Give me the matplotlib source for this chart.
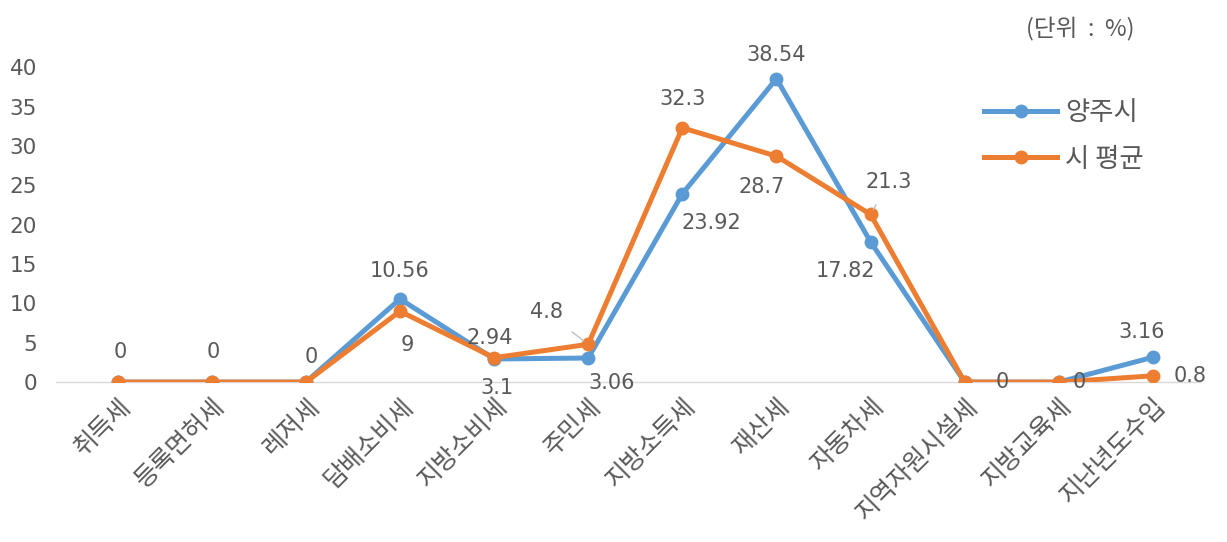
import matplotlib
matplotlib.use('Agg')
from matplotlib import pyplot as plt

plt.rcParams['font.family'] = ['Noto Sans CJK KR', 'DejaVu Sans']

categories = ['취득세', '등록면허세', '레저세', '담배소비세', '지방소비세', '주민세',
              '지방소득세', '재산세', '자동차세', '지역자원시설세', '지방교육세', '지난년도수입']
yangju = [0, 0, 0, 10.56, 2.94, 3.06, 23.92, 38.54, 17.82, 0, 0, 3.16]
city_avg = [0, 0, 0, 9, 3.1, 4.8, 32.3, 28.7, 21.3, 0, 0, 0.8]
yangju_labels = ['', '', '', '10.56', '2.94', '3.06', '23.92', '38.54', '17.82', '', '', '3.16']
avg_labels = ['0', '0', '0', '9', '3.1', '4.8', '32.3', '28.7', '21.3', '0', '0', '0.8']

BLUE = '#5B9BD5'
ORANGE = '#ED7D31'
GRAY = '#595959'
NUM_FONT = ['DejaVu Sans']

# 라벨 위치 (points 단위 offset)
blue_off = [None, None, None, (0, 20), (-3, 15), (17, -18), (21, -21), (0, 17), (-18, -21), None, None, (-8, 18)]
avg_off = [(2, 22), (1, 22), (4, 18), (5, -24), (2, -22), (-30, 23), (0, 21), (-11, -22), (13, 23), (27, 0), (15, 0), (27, 0)]

fig = plt.figure(figsize=(12.27, 5.42), dpi=100)
ax = fig.add_axes([0.046, 0.295, 0.932, 0.581])

x = list(range(len(categories)))
ax.plot(x, yangju, color=BLUE, lw=3.6, marker='o', ms=9, label='양주시', zorder=3)
ax.plot(x, city_avg, color=ORANGE, lw=3.6, marker='o', ms=9, label='시 평균', zorder=4)

for i in x:
    if yangju_labels[i] and blue_off[i] is not None:
        ax.annotate(yangju_labels[i], (i, yangju[i]), xytext=blue_off[i], textcoords='offset points',
                    ha='center', va='center', fontsize=15, family=NUM_FONT, color=GRAY, zorder=5,
                    annotation_clip=False)
    if avg_labels[i] and avg_off[i] is not None:
        arrow = None
        if i == 5 or i == 8:
            arrow = dict(arrowstyle='-', color='#BFBFBF', lw=1, shrinkA=8, shrinkB=4)
        ax.annotate(avg_labels[i], (i, city_avg[i]), xytext=avg_off[i], textcoords='offset points',
                    ha='center', va='center', fontsize=15, family=NUM_FONT, color=GRAY, zorder=5,
                    arrowprops=arrow, annotation_clip=False)

ax.set_xlim(-0.65, 11.5)
ax.set_ylim(0, 40)
ax.set_yticks(range(0, 41, 5))
ax.set_xticks(x)
ax.set_xticklabels(categories, rotation=45, ha='right', va='top', rotation_mode='anchor',
                   fontsize=18, color=GRAY)
ax.tick_params(axis='y', length=0, pad=14, labelsize=15.5, labelcolor=GRAY)
for t in ax.get_yticklabels():
    t.set_family(NUM_FONT)
ax.tick_params(axis='x', length=0, pad=8)

for s in ['top', 'right', 'left']:
    ax.spines[s].set_visible(False)
ax.spines['bottom'].set_color('#D9D9D9')
ax.spines['bottom'].set_linewidth(1)

leg = ax.legend(loc='upper left', bbox_to_anchor=(0.79, 0.975), frameon=False, fontsize=19,
                handlelength=2.8, labelspacing=0.75, handletextpad=0.3)
for t in leg.get_texts():
    t.set_color(GRAY)

fig.text(0.88, 0.945, '(단위  :  %)', fontsize=17, color=GRAY, ha='center', va='center')

fig.savefig('out.png', dpi=100)
